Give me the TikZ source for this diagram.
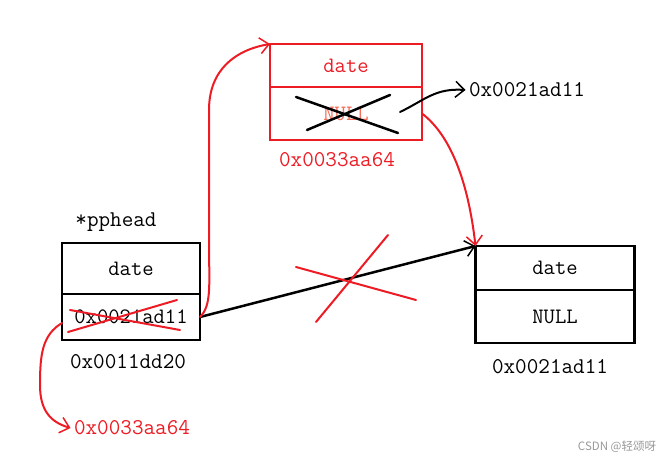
\documentclass[tikz,border=0pt]{standalone}
\usepackage{fontspec}
\newfontfamily\cjkfont{Noto Sans CJK SC}
\usepackage{tikz}
\usetikzlibrary{positioning,arrows.meta}

\definecolor{paintred}{RGB}{237,28,36}
\definecolor{nullred}{RGB}{245,110,90}

\tikzset{
    cell/.style = {draw, line width=2.5pt, outer sep=0pt, inner sep=0pt,
                   font=\ttfamily\fontsize{22}{24}\selectfont},
    addr/.style = {font=\ttfamily\fontsize{22.5}{24}\selectfont},
    arr/.style = {-{Straight Barb[length=9pt,width=16pt,line width=1.5pt]}},
    pen/.style = {line width=2pt, line cap=round}
}

\begin{document}
\begin{tikzpicture}[x=1pt, y=-1pt]
        \useasboundingbox (0,0) rectangle (669,465);
        % left node
        \node[cell, minimum width=138pt, minimum height=51pt] (ldate) at (131,268.5) {date};
        \node[cell, minimum width=138pt, minimum height=46pt, below=0pt of ldate] (lnext) {0x0021ad11};
        \node[addr] (phead) at (116,222) {*pphead};
        \node[addr] (laddr) at (128,362) {0x0011dd20};
        \node[addr, text=paintred] (newaddr) at (132,428) {0x0033aa64};
        % new node
        \node[cell, draw=paintred, text=paintred, minimum width=152pt, minimum height=43pt] (ndate) at (346,65.5) {date};
        \node[cell, draw=paintred, text=nullred, minimum width=152pt, minimum height=53pt, below=0pt of ndate] (nnext) {NULL};
        \node[addr, text=paintred] (naddr) at (337,160) {0x0033aa64};
        \node[addr] (nlink) at (527,90) {0x0021ad11};
        % right node
        \node[cell, minimum width=159pt, minimum height=44pt] (rdate) at (555,268) {date};
        \node[cell, minimum width=159pt, minimum height=53pt, below=0pt of rdate] (rnext) {NULL};
        \node[addr] (raddr) at (550,367) {0x0021ad11};
        \node[text=black!40, font=\cjkfont\fontsize{11.5}{14}\selectfont] (mark) at (617,447) {CSDN @轻颂呀};

        % old link
        \draw[pen, line width=2.5pt, arr] (lnext.east) -- (rdate.north west);
        \draw[pen, paintred] (296,267) -- (416,300);
        \draw[pen, paintred] (316,322) -- (388,235);
        % crossed out address
        \draw[pen, paintred] (68,332) -- (177,300);
        \draw[pen, paintred] (70,310) -- (180,330);
        % crossed out NULL
        \draw[pen, line width=2.5pt] (296,97) -- (398,133);
        \draw[pen, line width=2.5pt] (307,130) -- (390,95);

        % new links
        \draw[pen, paintred, arr] (lnext.east) .. controls (212,305) and (209,285) .. (209,240)
            -- (209,110) .. controls (209,70) and (235,50) .. (ndate.north west);
        \draw[pen, paintred, arr] (62,323) .. controls (42,335) and (40,355) .. (40,385)
            .. controls (40,410) and (50,422) .. (newaddr.west);
        \coordinate (nstart) at (400,112);
        \draw[pen, arr] (nstart) .. controls (425,100) and (435,88) .. (nlink.west);
        \draw[pen, paintred, arr] (nnext.east) .. controls (450,135) and (468,180) .. (rdate.north west);
\end{tikzpicture}
\end{document}
